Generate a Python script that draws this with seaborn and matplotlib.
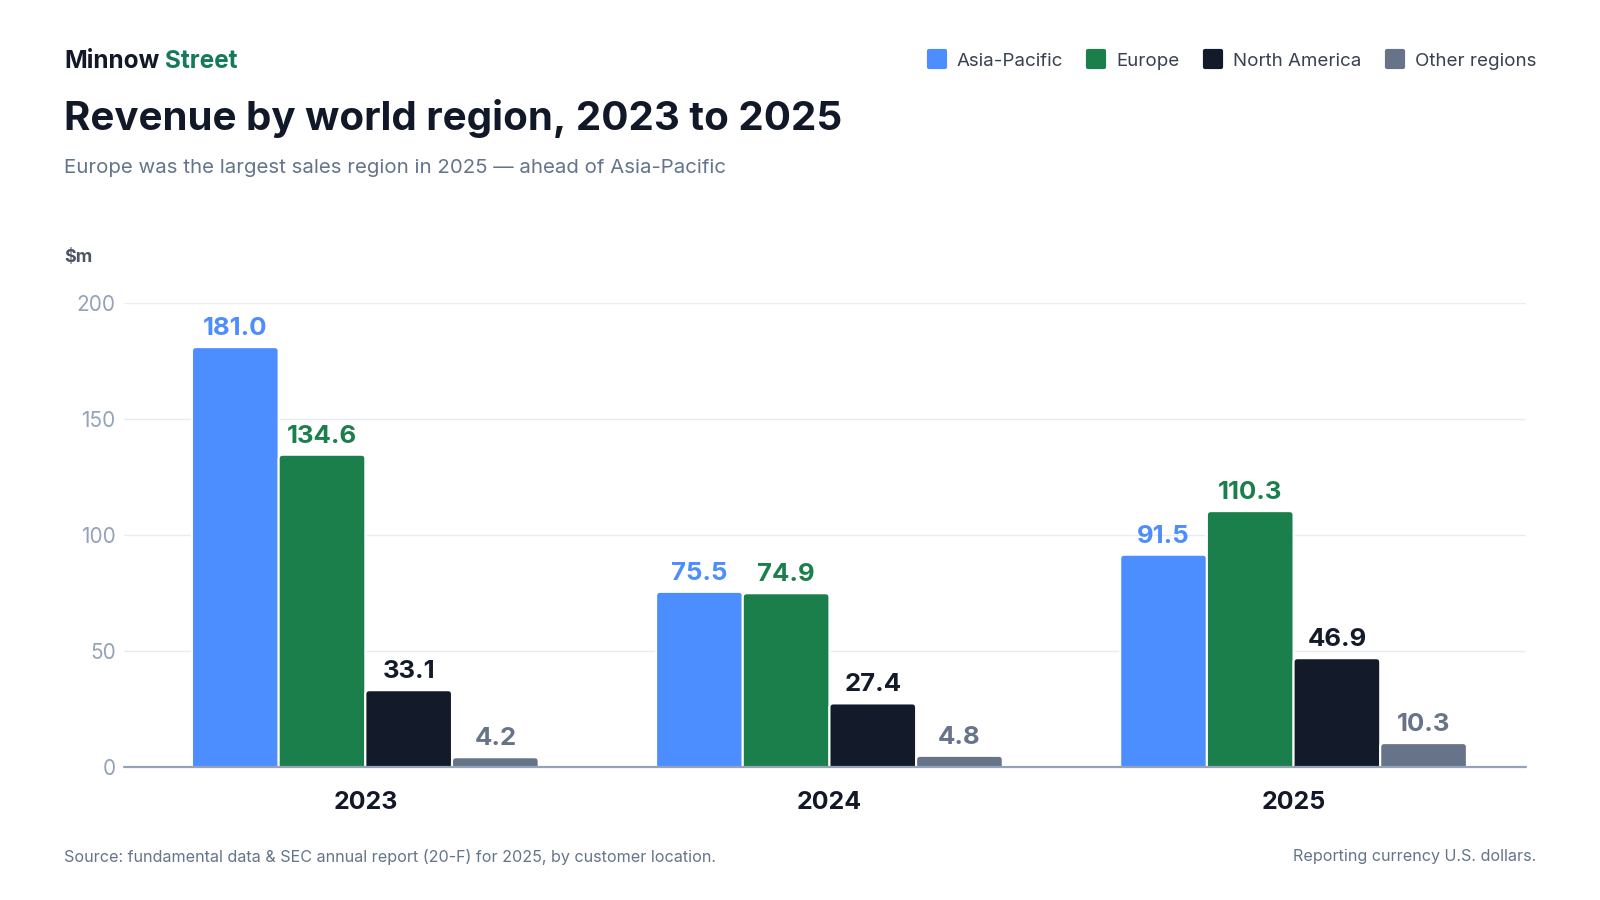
import numpy as np
import pandas as pd
import matplotlib.pyplot as plt
import seaborn as sns
from matplotlib.patches import FancyBboxPatch
from matplotlib.lines import Line2D
from matplotlib.markers import MarkerStyle

YEARS = ["2023", "2024", "2025"]
REGIONS = ["Asia-Pacific", "Europe", "North America", "Other regions"]
ASIA_PACIFIC = [181.0, 75.5, 91.5]
EUROPE = [134.6, 74.9, 110.3]
NORTH_AMERICA = [33.1, 27.4, 46.9]
OTHER_REGIONS = [4.2, 4.8, 10.3]
Y_TICKS = [0, 50, 100, 150, 200]

COLORS = ["#4C8DFF", "#1B7F4B", "#131A2A", "#667389"]
INK = "#111827"
MUTED = "#64748B"

df = pd.DataFrame({
    "year": YEARS * 4,
    "region": np.repeat(REGIONS, len(YEARS)),
    "revenue": ASIA_PACIFIC + EUROPE + NORTH_AMERICA + OTHER_REGIONS,
})

sns.set_theme(style="white")
plt.rcParams["font.family"] = ["Inter", "DejaVu Sans"]

fig = plt.figure(figsize=(16, 9), dpi=100)
ax = fig.add_axes([0.0775, 0.1478, 0.876, 0.5155])

sns.barplot(data=df, x="year", y="revenue", hue="region", hue_order=REGIONS,
            palette=COLORS, saturation=1, width=0.747, errorbar=None,
            edgecolor="white", linewidth=1.5, legend=False, ax=ax)

ax.set_xlim(-0.52, 2.5)
ax.set_ylim(0, 200)
ax.set_yticks(Y_TICKS)
ax.set_xlabel("")
ax.set_ylabel("")
sns.despine(ax=ax, left=True, bottom=True)
ax.grid(axis="y", color="#E8EBF0", linewidth=1)
ax.set_axisbelow(True)
ax.axhline(0, color="#94A3B8", linewidth=1.6, zorder=5, clip_on=False)

ax.tick_params(axis="y", length=0, pad=6, labelsize=15, labelcolor="#94A3B8")
ax.tick_params(axis="x", length=0, pad=17, labelsize=18, labelcolor=INK)
for lbl in ax.get_xticklabels():
    lbl.set_fontweight("bold")

# value labels above each bar
for container, color in zip(ax.containers, COLORS):
    ax.bar_label(container, fmt="%.1f", padding=5, color=color,
                 fontsize=18.5, fontweight="bold")

# swap plain rectangles for ones with rounded top corners
fig.canvas.draw()
bbox = ax.get_window_extent()
px_x = bbox.width / (ax.get_xlim()[1] - ax.get_xlim()[0])
px_y = bbox.height / (ax.get_ylim()[1] - ax.get_ylim()[0])
r_px = 4
rx = r_px / px_x
ry = r_px / px_y
for bar in list(ax.patches):
    x, w, h = bar.get_x(), bar.get_width(), bar.get_height()
    rounded = FancyBboxPatch((x, -ry), w, h + ry,
                             boxstyle=f"round,pad=0,rounding_size={rx}",
                             mutation_aspect=px_x / px_y,
                             facecolor=bar.get_facecolor(), edgecolor="white",
                             linewidth=1.5, zorder=2)
    ax.add_patch(rounded)
    bar.remove()

# header
brand = fig.text(0.04, 1 - 62 / 900, "Minnow", fontsize=17.5, fontweight="bold",
                 color=INK, va="center")
ax.annotate("Street", xy=(1, 0.5), xycoords=brand, xytext=(4, 0),
            textcoords="offset points", fontsize=17.5, fontweight="bold",
            color="#137A5A", va="center")
fig.text(0.04, 1 - 118 / 900, "Revenue by world region, 2023 to 2025",
         fontsize=29, fontweight="bold", color=INK, va="center")
fig.text(0.04, 1 - 168 / 900,
         "Europe was the largest sales region in 2025 \u2014 ahead of Asia-Pacific",
         fontsize=14.7, color=MUTED, va="center")
fig.text(0.04, 1 - 257 / 900, "$m", fontsize=13, fontweight="bold",
         color="#4B5563", va="center")

# legend
handles = [Line2D([], [], ls="", marker=MarkerStyle("s", joinstyle="round"),
                  markersize=11, markeredgewidth=3, markerfacecolor=c,
                  markeredgecolor=c) for c in COLORS]
fig.legend(handles, REGIONS, loc="center right", bbox_to_anchor=(0.96, 1 - 61 / 900),
           ncol=4, frameon=False, fontsize=13.5, labelcolor="#374151",
           handlelength=1.0, handletextpad=0.55, columnspacing=1.3,
           borderaxespad=0, borderpad=0)

# footer
fig.text(0.04, 1 - 857 / 900,
         "Source: fundamental data & SEC annual report (20-F) for 2025, by customer location.",
         fontsize=11.6, color=MUTED, va="center")
fig.text(0.96, 1 - 857 / 900, "Reporting currency U.S. dollars.",
         fontsize=11.6, color=MUTED, va="center", ha="right")

fig.savefig("out.png", dpi=100)
